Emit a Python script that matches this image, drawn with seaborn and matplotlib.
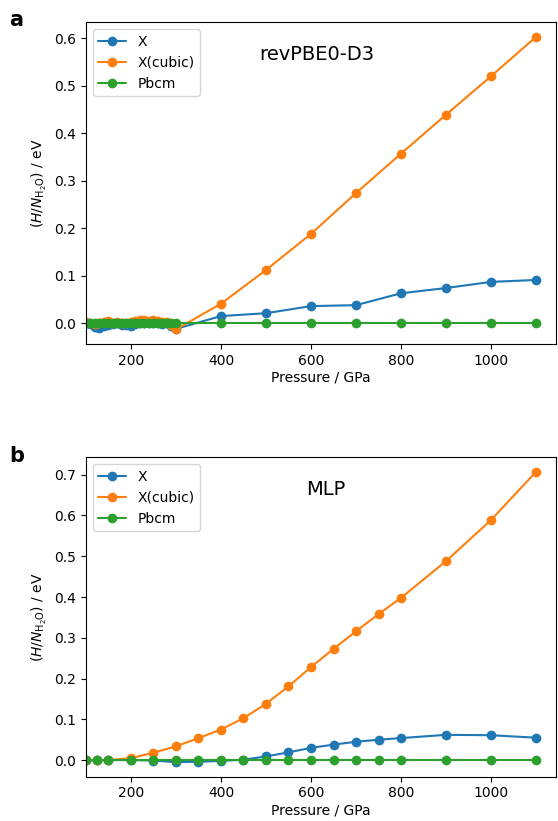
import numpy as np
import pandas as pd
import matplotlib
matplotlib.use("Agg")
import matplotlib.pyplot as plt
import seaborn as sns

# ---- Panel a data (revPBE0-D3) ----
p_a = [100, 110, 120, 130, 140, 150, 160, 170, 180, 190, 200, 210, 220, 230, 240,
       250, 260, 270, 280, 290, 300, 400, 500, 600, 700, 800, 900, 1000, 1100]
x_a = [0.000, -0.002, -0.008, -0.010, -0.006, -0.003, -0.002, 0.000, -0.004, -0.003,
       -0.006, -0.002, 0.000, 0.001, 0.000, 0.001, 0.000, -0.001, 0.000, -0.006,
       -0.012, 0.015, 0.021, 0.036, 0.038, 0.063, 0.074, 0.087, 0.091]
xc_a = [0.002, 0.000, -0.002, 0.001, 0.002, 0.005, 0.001, 0.002, 0.000, 0.001,
        0.002, 0.004, 0.006, 0.007, 0.005, 0.006, 0.004, 0.003, 0.002, -0.004,
        -0.013, 0.041, 0.112, 0.188, 0.274, 0.357, 0.439, 0.520, 0.603]
pb_a = [0.0] * len(p_a)

# ---- Panel b data (MLP) ----
p_b = [100, 125, 150, 200, 250, 300, 350, 400, 450, 500, 550, 600, 650, 700, 750,
       800, 900, 1000, 1100]
x_b = [0.000, 0.000, 0.000, 0.000, -0.001, -0.005, -0.004, -0.002, 0.001, 0.009,
       0.019, 0.030, 0.038, 0.045, 0.050, 0.054, 0.062, 0.061, 0.055]
xc_b = [0.000, 0.000, 0.000, 0.005, 0.018, 0.034, 0.054, 0.075, 0.103, 0.138,
        0.181, 0.228, 0.273, 0.316, 0.358, 0.398, 0.488, 0.589, 0.707]
pb_b = [0.0] * len(p_b)

series_names = ["X", "X(cubic)", "Pbcm"]
panel_titles = ["revPBE0-D3", "MLP"]
panel_letters = ["a", "b"]

sns.set_style("ticks")
plt.rcParams['font.family'] = ['DejaVu Sans']
plt.rcParams['text.color'] = 'black'
plt.rcParams['axes.labelcolor'] = 'black'
plt.rcParams['xtick.color'] = 'black'
plt.rcParams['ytick.color'] = 'black'
colors = sns.color_palette("tab10")

fig = plt.figure(figsize=(5.58, 8.21), dpi=100)
ax_a = fig.add_axes([0.154, 0.581, 0.843, 0.392])
ax_b = fig.add_axes([0.154, 0.054, 0.843, 0.389])

panels = [
    (ax_a, p_a, [x_a, xc_a, pb_a]),
    (ax_b, p_b, [x_b, xc_b, pb_b]),
]
title_x = [0.49, 0.51]

for i, (ax, p, ys) in enumerate(panels):
    for j, (name, y) in enumerate(zip(series_names, ys)):
        df = pd.DataFrame({"P": p, "E": y})
        sns.lineplot(data=df, x="P", y="E", ax=ax, color=colors[j], marker="o",
                     markersize=7, markeredgewidth=0, linewidth=1.5,
                     estimator=None, sort=False, label=name)
    ax.set_xlim(100, 1145)
    ax.set_xlabel("Pressure / GPa", fontsize=10, labelpad=2)
    ax.set_ylabel(r"$(H/N_{\mathrm{H_2O}})$ / eV", fontsize=10)
    ax.tick_params(labelsize=10, direction="out", length=3.5, width=0.8)
    for s in ax.spines.values():
        s.set_linewidth(0.8)
        s.set_color("black")
    ax.legend(loc="upper left", fontsize=10, frameon=True)
    ax.text(title_x[i], 0.9, panel_titles[i], transform=ax.transAxes, ha="center",
            va="center", fontsize=14)
    ax.grid(False)

ax_a.set_yticks([0.0, 0.1, 0.2, 0.3, 0.4, 0.5, 0.6])
ax_b.set_yticks([0.0, 0.1, 0.2, 0.3, 0.4, 0.5, 0.6, 0.7])

fig.text(0.016, 0.976, "a", fontsize=15, fontweight="bold", va="center")
fig.text(0.016, 0.445, "b", fontsize=15, fontweight="bold", va="center")

fig.savefig("out.png", dpi=100)
